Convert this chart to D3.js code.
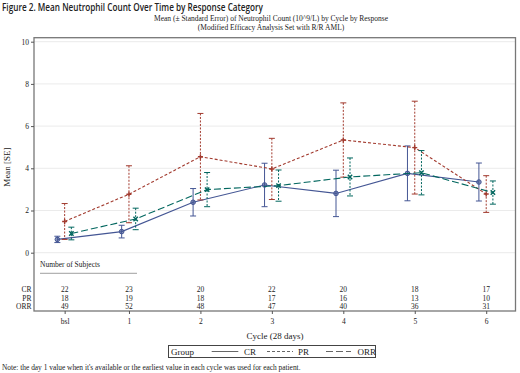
<!DOCTYPE html>
<html>
<head>
<meta charset="utf-8">
<script src="https://cdn.jsdelivr.net/npm/d3@7"></script>
<style>
  body { margin: 0; background: #fff; }
  text { font-family: "Liberation Serif", "DejaVu Serif", serif; fill: #222; }
  .title { font-family: "Open Sans", "Liberation Sans", Arial, sans-serif; font-weight: 600; }
</style>
</head>
<body>
<div id="chart"></div>
<script>
// *Data
const cycleLabels = ["bsl", "1", "2", "3", "4", "5", "6"];
const cyclePos = [0.1, 1, 2, 3, 4, 5, 6];
const yTicks = [0, 2, 4, 6, 8, 10];

const crMean = [0.63, 1.0, 2.39, 3.21, 2.81, 3.76, 3.35];
const crSE = [0.15, 0.3, 0.65, 1.03, 1.1, 1.3, 0.9];
const prMean = [1.48, 2.77, 4.55, 3.97, 5.34, 4.98, 2.78];
const prSE = [0.85, 1.35, 2.05, 1.45, 1.76, 2.2, 0.87];
const orrMean = [0.91, 1.6, 2.99, 3.18, 3.59, 3.79, 2.85];
const orrSE = [0.3, 0.51, 0.81, 0.74, 0.9, 1.05, 0.55];

const crN = [22, 23, 20, 22, 20, 18, 17];
const prN = [18, 19, 18, 17, 16, 13, 10];
const orrN = [49, 52, 48, 47, 40, 36, 31];

const groups = [
  { name: "CR", mean: crMean, se: crSE, n: crN, color: "#445694", dash: null, offset: -7.3, marker: "circle" },
  { name: "PR", mean: prMean, se: prSE, n: prN, color: "#A23A2E", dash: "3,2", offset: 0, marker: "plus" },
  { name: "ORR", mean: orrMean, se: orrSE, n: orrN, color: "#01665E", dash: "7,3", offset: 6.7, marker: "x" },
];

const W = 520, H = 373;
const plot = { left: 34, right: 515.5, top: 37.7, bottom: 311 };

const svg = d3.select("#chart").append("svg").attr("width", W).attr("height", H);

// *Scales
const x = d3.scaleLinear().domain([-0.329, 6.41]).range([plot.left, plot.right]);
const y = d3.scaleLinear().domain([0, 10]).range([252.7, 41.7]);

// *Titles
svg.append("text").attr("class", "title")
  .attr("x", 2).attr("y", 11)
  .style("font-size", "10px")
  .attr("textLength", 261).attr("lengthAdjust", "spacingAndGlyphs")
  .text("Figure 2. Mean Neutrophil Count Over Time by Response Category");

svg.append("text").attr("x", 271).attr("y", 21)
  .attr("text-anchor", "middle").style("font-size", "7.5px")
  .text("Mean (\u00b1 Standard Error) of Neutrophil Count (10^9/L) by Cycle by Response");
svg.append("text").attr("x", 271).attr("y", 29.5)
  .attr("text-anchor", "middle").style("font-size", "7.5px")
  .text("(Modified Efficacy Analysis Set with R/R AML)");

// *Gridlines
svg.append("g").selectAll("line").data(yTicks).enter().append("line")
  .attr("x1", plot.left).attr("x2", plot.right)
  .attr("y1", d => y(d)).attr("y2", d => y(d))
  .attr("stroke", "#ebebeb").attr("stroke-width", 1);

// *Frame
svg.append("rect")
  .attr("x", plot.left).attr("y", plot.top)
  .attr("width", plot.right - plot.left).attr("height", plot.bottom - plot.top)
  .attr("fill", "none").attr("stroke", "#777").attr("stroke-width", 1.3);

// *Y axis
const yAxis = svg.append("g")
  .attr("transform", "translate(" + plot.left + ",0)")
  .call(d3.axisLeft(y).tickValues(yTicks).tickSize(3).tickPadding(2));
yAxis.select(".domain").remove();
yAxis.selectAll("line").attr("stroke", "#555");
yAxis.selectAll("text").style("font-size", "7.5px").attr("fill", "#222")
  .style("font-family", "Liberation Serif, serif");

svg.append("text")
  .attr("transform", "translate(10,167) rotate(-90)")
  .attr("text-anchor", "middle").style("font-size", "9px")
  .text("Mean [SE]");

// *X axis
const xAxis = svg.append("g")
  .attr("transform", "translate(0," + plot.bottom + ")")
  .call(d3.axisBottom(x).tickValues(cyclePos)
    .tickFormat((d, i) => cycleLabels[i]).tickSize(3).tickPadding(5));
xAxis.select(".domain").remove();
xAxis.selectAll("line").attr("stroke", "#555");
xAxis.selectAll("text").style("font-size", "7.5px").attr("fill", "#222")
  .style("font-family", "Liberation Serif, serif");

svg.append("text").attr("x", 275).attr("y", 339)
  .attr("text-anchor", "middle").style("font-size", "9px")
  .text("Cycle (28 days)");

// *Series
const line = d3.line();
groups.forEach(function (g) {
  const px = cyclePos.map(p => x(p) + g.offset);
  const layer = svg.append("g");

  // error bars
  g.mean.forEach(function (m, i) {
    const top = y(m + g.se[i]), bot = y(m - g.se[i]);
    layer.append("line")
      .attr("x1", px[i]).attr("x2", px[i]).attr("y1", top).attr("y2", bot)
      .attr("stroke", g.color).attr("stroke-width", 1)
      .attr("stroke-dasharray", g.dash ? "2,1.5" : null);
    [top, bot].forEach(function (yy) {
      layer.append("line")
        .attr("x1", px[i] - 3).attr("x2", px[i] + 3).attr("y1", yy).attr("y2", yy)
        .attr("stroke", g.color).attr("stroke-width", 1);
    });
  });

  // mean line
  layer.append("path")
    .attr("d", line(g.mean.map((m, i) => [px[i], y(m)])))
    .attr("fill", "none").attr("stroke", g.color).attr("stroke-width", 1.1)
    .attr("stroke-dasharray", g.dash);

  // markers
  g.mean.forEach(function (m, i) {
    const cx = px[i], cy = y(m);
    if (g.marker === "circle") {
      layer.append("circle").attr("cx", cx).attr("cy", cy).attr("r", 2.3)
        .attr("fill", g.color).attr("fill-opacity", 0.6).attr("stroke", g.color);
    } else if (g.marker === "plus") {
      layer.append("path")
        .attr("d", `M${cx - 2.5},${cy}H${cx + 2.5}M${cx},${cy - 2.5}V${cy + 2.5}`)
        .attr("stroke", g.color).attr("stroke-width", 1.4);
    } else {
      layer.append("path")
        .attr("d", `M${cx - 2.2},${cy - 2.2}L${cx + 2.2},${cy + 2.2}M${cx - 2.2},${cy + 2.2}L${cx + 2.2},${cy - 2.2}`)
        .attr("stroke", g.color).attr("stroke-width", 1.4);
    }
  });
});

// *Number of subjects table
svg.append("text").attr("x", 40).attr("y", 266.5)
  .style("font-size", "7.5px").text("Number of Subjects");
svg.append("line").attr("x1", 40).attr("x2", 137).attr("y1", 273.3).attr("y2", 273.3)
  .attr("stroke", "#888").attr("stroke-width", 0.8);

const rowY = [292, 300.5, 309];
groups.forEach(function (g, r) {
  svg.append("text").attr("x", 31.5).attr("y", rowY[r])
    .attr("text-anchor", "end").style("font-size", "7.5px").text(g.name);
  svg.append("g").selectAll("text").data(g.n).enter().append("text")
    .attr("x", (d, i) => x(cyclePos[i]))
    .attr("y", rowY[r])
    .attr("text-anchor", "middle").style("font-size", "7.5px")
    .text(d => d);
});

// *Legend
const leg = svg.append("g");
leg.append("rect").attr("x", 168.5).attr("y", 345.5).attr("width", 207).attr("height", 12)
  .attr("fill", "none").attr("stroke", "#444").attr("stroke-width", 1);
leg.append("text").attr("x", 171).attr("y", 355).style("font-size", "9px").text("Group");
const legItems = [
  { x1: 211.7, x2: 238.3, tx: 244 },
  { x1: 267, x2: 293, tx: 298 },
  { x1: 326, x2: 351, tx: 357.5 },
];
groups.forEach(function (g, i) {
  const it = legItems[i];
  leg.append("line").attr("x1", it.x1).attr("x2", it.x2).attr("y1", 351.5).attr("y2", 351.5)
    .attr("stroke", "#666").attr("stroke-width", 1)
    .attr("stroke-dasharray", g.dash);
  leg.append("text").attr("x", it.tx).attr("y", 355).style("font-size", "9px").text(g.name);
});

// *Note
svg.append("text").attr("x", 2).attr("y", 369.5)
  .style("font-size", "7.4px")
  .text("Note: the day 1 value when it's available or the earliest value in each cycle was used for each patient.");
</script>
</body>
</html>
